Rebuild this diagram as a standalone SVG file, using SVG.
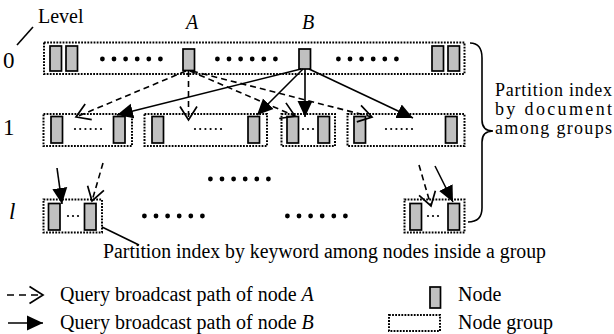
<svg xmlns="http://www.w3.org/2000/svg" xmlns:xlink="http://www.w3.org/1999/xlink" width="614" height="334" viewBox="0 0 614 334">
  <style>
    text { font-family: "Liberation Serif", "Times New Roman", serif; fill: #000; }
    .t { font-size: 20px; }
    .side { font-size: 18px; }
    .lv { font-size: 23px; }
    .it { font-style: italic; }
    .grp { fill: none; stroke: #000; stroke-width: 2; stroke-dasharray: 1.8 1.3; }
    .node { fill: #c0c0c0; stroke: #000; stroke-width: 1.7; }
    .dash { fill: none; stroke: #000; stroke-width: 1.6; stroke-dasharray: 6 4; marker-end: url(#open); }
    .sol { fill: none; stroke: #000; stroke-width: 1.6; marker-end: url(#filled); }
    .thin { fill: none; stroke: #000; stroke-width: 1.6; }
  </style>
  <defs>
    <marker id="open" markerUnits="userSpaceOnUse" markerWidth="18" markerHeight="22" viewBox="0 0 18 22" refX="15" refY="11" orient="auto">
      <path d="M1.5,2.5 L15,11 L1.5,19.5" fill="none" stroke="#000" stroke-width="1.7" stroke-dasharray="none"/>
    </marker>
    <marker id="filled" markerUnits="userSpaceOnUse" markerWidth="17" markerHeight="17" viewBox="0 0 17 17" refX="16" refY="8.5" orient="auto">
      <path d="M0,1 L16,8.5 L0,16 Z" fill="#000"/>
    </marker>
    <!-- six large ellipsis dots -->
    <g id="bigdots">
      <circle cx="0" cy="0" r="2.4"/><circle cx="11.6" cy="0" r="2.4"/><circle cx="23.2" cy="0" r="2.4"/>
      <circle cx="34.8" cy="0" r="2.4"/><circle cx="46.4" cy="0" r="2.4"/><circle cx="58" cy="0" r="2.4"/>
    </g>
    <!-- six small dots inside a group -->
    <g id="smalldots">
      <circle cx="0" cy="0" r="1.1"/><circle cx="5.2" cy="0" r="1.1"/><circle cx="10.4" cy="0" r="1.1"/>
      <circle cx="15.6" cy="0" r="1.1"/><circle cx="20.8" cy="0" r="1.1"/><circle cx="26" cy="0" r="1.1"/>
    </g>
    <!-- three small dots -->
    <g id="threedots">
      <circle cx="0" cy="0" r="1.1"/><circle cx="5" cy="0" r="1.1"/><circle cx="10" cy="0" r="1.1"/>
    </g>
  </defs>

  <!-- level labels -->
  <text class="t" x="38" y="23">Level</text>
  <line class="thin" x1="17" y1="45" x2="33" y2="27"/>
  <text class="lv" x="3" y="68">0</text>
  <text class="lv" x="3" y="135">1</text>
  <text class="lv it" x="9" y="219">l</text>
  <text class="t it" x="186" y="29">A</text>
  <text class="t it" x="302" y="29">B</text>

  <!-- level 0: single group -->
  <g id="group-0">
    <rect class="grp" x="44" y="42.5" width="420.5" height="31.5"/>
    <g id="node-0a"><rect class="node" x="50" y="46" width="11.5" height="25"/></g>
    <g id="node-0b"><rect class="node" x="66" y="46" width="11.5" height="25"/></g>
    <g id="node-A"><rect class="node" x="183" y="49" width="11.5" height="21.5"/></g>
    <g id="node-B"><rect class="node" x="299" y="49" width="11.5" height="20"/></g>
    <g id="node-0c"><rect class="node" x="432" y="46" width="11.5" height="25"/></g>
    <g id="node-0d"><rect class="node" x="448" y="46" width="11.5" height="25"/></g>
    <use xlink:href="#bigdots" x="102.4" y="59"/>
    <use xlink:href="#bigdots" x="217.4" y="59"/>
    <use xlink:href="#bigdots" x="338.4" y="59"/>
  </g>

  <!-- level 1: four groups -->
  <g id="group-1a">
    <rect class="grp" x="43.5" y="114" width="88.5" height="32"/>
    <g id="node-1a1"><rect class="node" x="51" y="116.5" width="11.5" height="26.5"/></g>
    <g id="node-1a2"><rect class="node" x="113.5" y="116.5" width="11.5" height="26.5"/></g>
    <use xlink:href="#smalldots" x="75" y="129"/>
  </g>
  <g id="group-1b">
    <rect class="grp" x="144.5" y="114" width="122.5" height="32"/>
    <g id="node-1b1"><rect class="node" x="152" y="116.5" width="11.5" height="26.5"/></g>
    <g id="node-1b2"><rect class="node" x="248" y="116.5" width="11.5" height="26.5"/></g>
    <use xlink:href="#smalldots" x="195" y="129"/>
  </g>
  <g id="group-1c">
    <rect class="grp" x="281.5" y="114" width="53.5" height="32"/>
    <g id="node-1c1"><rect class="node" x="287" y="116.5" width="11.5" height="26.5"/></g>
    <g id="node-1c2"><rect class="node" x="318" y="116.5" width="11.5" height="26.5"/></g>
    <use xlink:href="#threedots" x="303" y="129"/>
  </g>
  <g id="group-1d">
    <rect class="grp" x="347.5" y="114" width="117" height="32"/>
    <g id="node-1d1"><rect class="node" x="354" y="116.5" width="11.5" height="26.5"/></g>
    <g id="node-1d2"><rect class="node" x="445.5" y="116.5" width="11.5" height="26.5"/></g>
    <use xlink:href="#smalldots" x="386" y="129"/>
  </g>

  <!-- gap between levels 1 and l -->
  <use xlink:href="#bigdots" x="210.4" y="179"/>

  <!-- level l: leaf groups -->
  <g id="group-la">
    <rect class="grp" x="43.5" y="199.5" width="58.5" height="33"/>
    <g id="node-la1"><rect class="node" x="48.5" y="203.5" width="11.5" height="26.5"/></g>
    <g id="node-la2"><rect class="node" x="84.5" y="203.5" width="11.5" height="26.5"/></g>
    <use xlink:href="#threedots" x="68" y="216"/>
  </g>
  <use xlink:href="#bigdots" x="144.4" y="216"/>
  <use xlink:href="#bigdots" x="287.4" y="216"/>
  <g id="group-lb">
    <rect class="grp" x="404.5" y="199.5" width="60" height="33"/>
    <g id="node-lb1"><rect class="node" x="410" y="203.5" width="11.5" height="26.5"/></g>
    <g id="node-lb2"><rect class="node" x="448" y="203.5" width="11.5" height="26.5"/></g>
    <use xlink:href="#threedots" x="428" y="216"/>
  </g>

  <!-- brace and side labels -->
  <path class="thin" d="M470,43 Q482,43 482,58 L482,120 Q482,131 493,131 Q482,131 482,142 L482,208 Q482,222 468,222"/>
  <text class="side" x="495" y="96" textLength="117" lengthAdjust="spacing">Partition index</text>
  <text class="side" x="495" y="115" textLength="117" lengthAdjust="spacing">by document</text>
  <text class="side" x="495" y="134" textLength="117" lengthAdjust="spacing">among groups</text>

  <!-- callout to the keyword partition label -->
  <line class="thin" x1="102" y1="227" x2="139" y2="245"/>
  <text class="t" x="103" y="258" textLength="443" lengthAdjust="spacingAndGlyphs">Partition index by keyword among nodes inside a group</text>

  <!-- query broadcast paths -->
  <g id="connectors">
    <line class="dash" x1="186" y1="71" x2="76" y2="117"/>
    <line class="dash" x1="188.5" y1="71" x2="188.5" y2="120"/>
    <line class="dash" x1="190" y1="71" x2="295" y2="116"/>
    <line class="dash" x1="192" y1="71" x2="372" y2="117"/>
    <line class="sol" x1="301" y1="69" x2="117" y2="115"/>
    <line class="sol" x1="303" y1="69" x2="257" y2="115"/>
    <line class="sol" x1="305" y1="69" x2="305" y2="117"/>
    <line class="sol" x1="309" y1="69" x2="413" y2="118"/>
    <line class="sol" x1="57" y1="168" x2="62" y2="204"/>
    <line class="dash" x1="103" y1="163" x2="92" y2="201"/>
    <line class="dash" x1="419" y1="165" x2="431" y2="206"/>
    <line class="sol" x1="435" y1="166" x2="453" y2="202"/>
  </g>

  <!-- legend -->
  <g id="legend">
    <line class="dash" x1="7" y1="295" x2="43" y2="295" style="stroke-dasharray:7 5"/>
    <text class="t" x="60" y="301">Query broadcast path of node <tspan class="it">A</tspan></text>
    <line class="sol" x1="8" y1="323" x2="43" y2="323"/>
    <text class="t" x="60" y="329">Query broadcast path of node <tspan class="it">B</tspan></text>
    <rect class="node" x="430" y="287" width="10.5" height="21"/>
    <text class="t" x="458" y="301">Node</text>
    <rect class="grp" x="389" y="315" width="51" height="16"/>
    <text class="t" x="458" y="329">Node group</text>
  </g>
</svg>
